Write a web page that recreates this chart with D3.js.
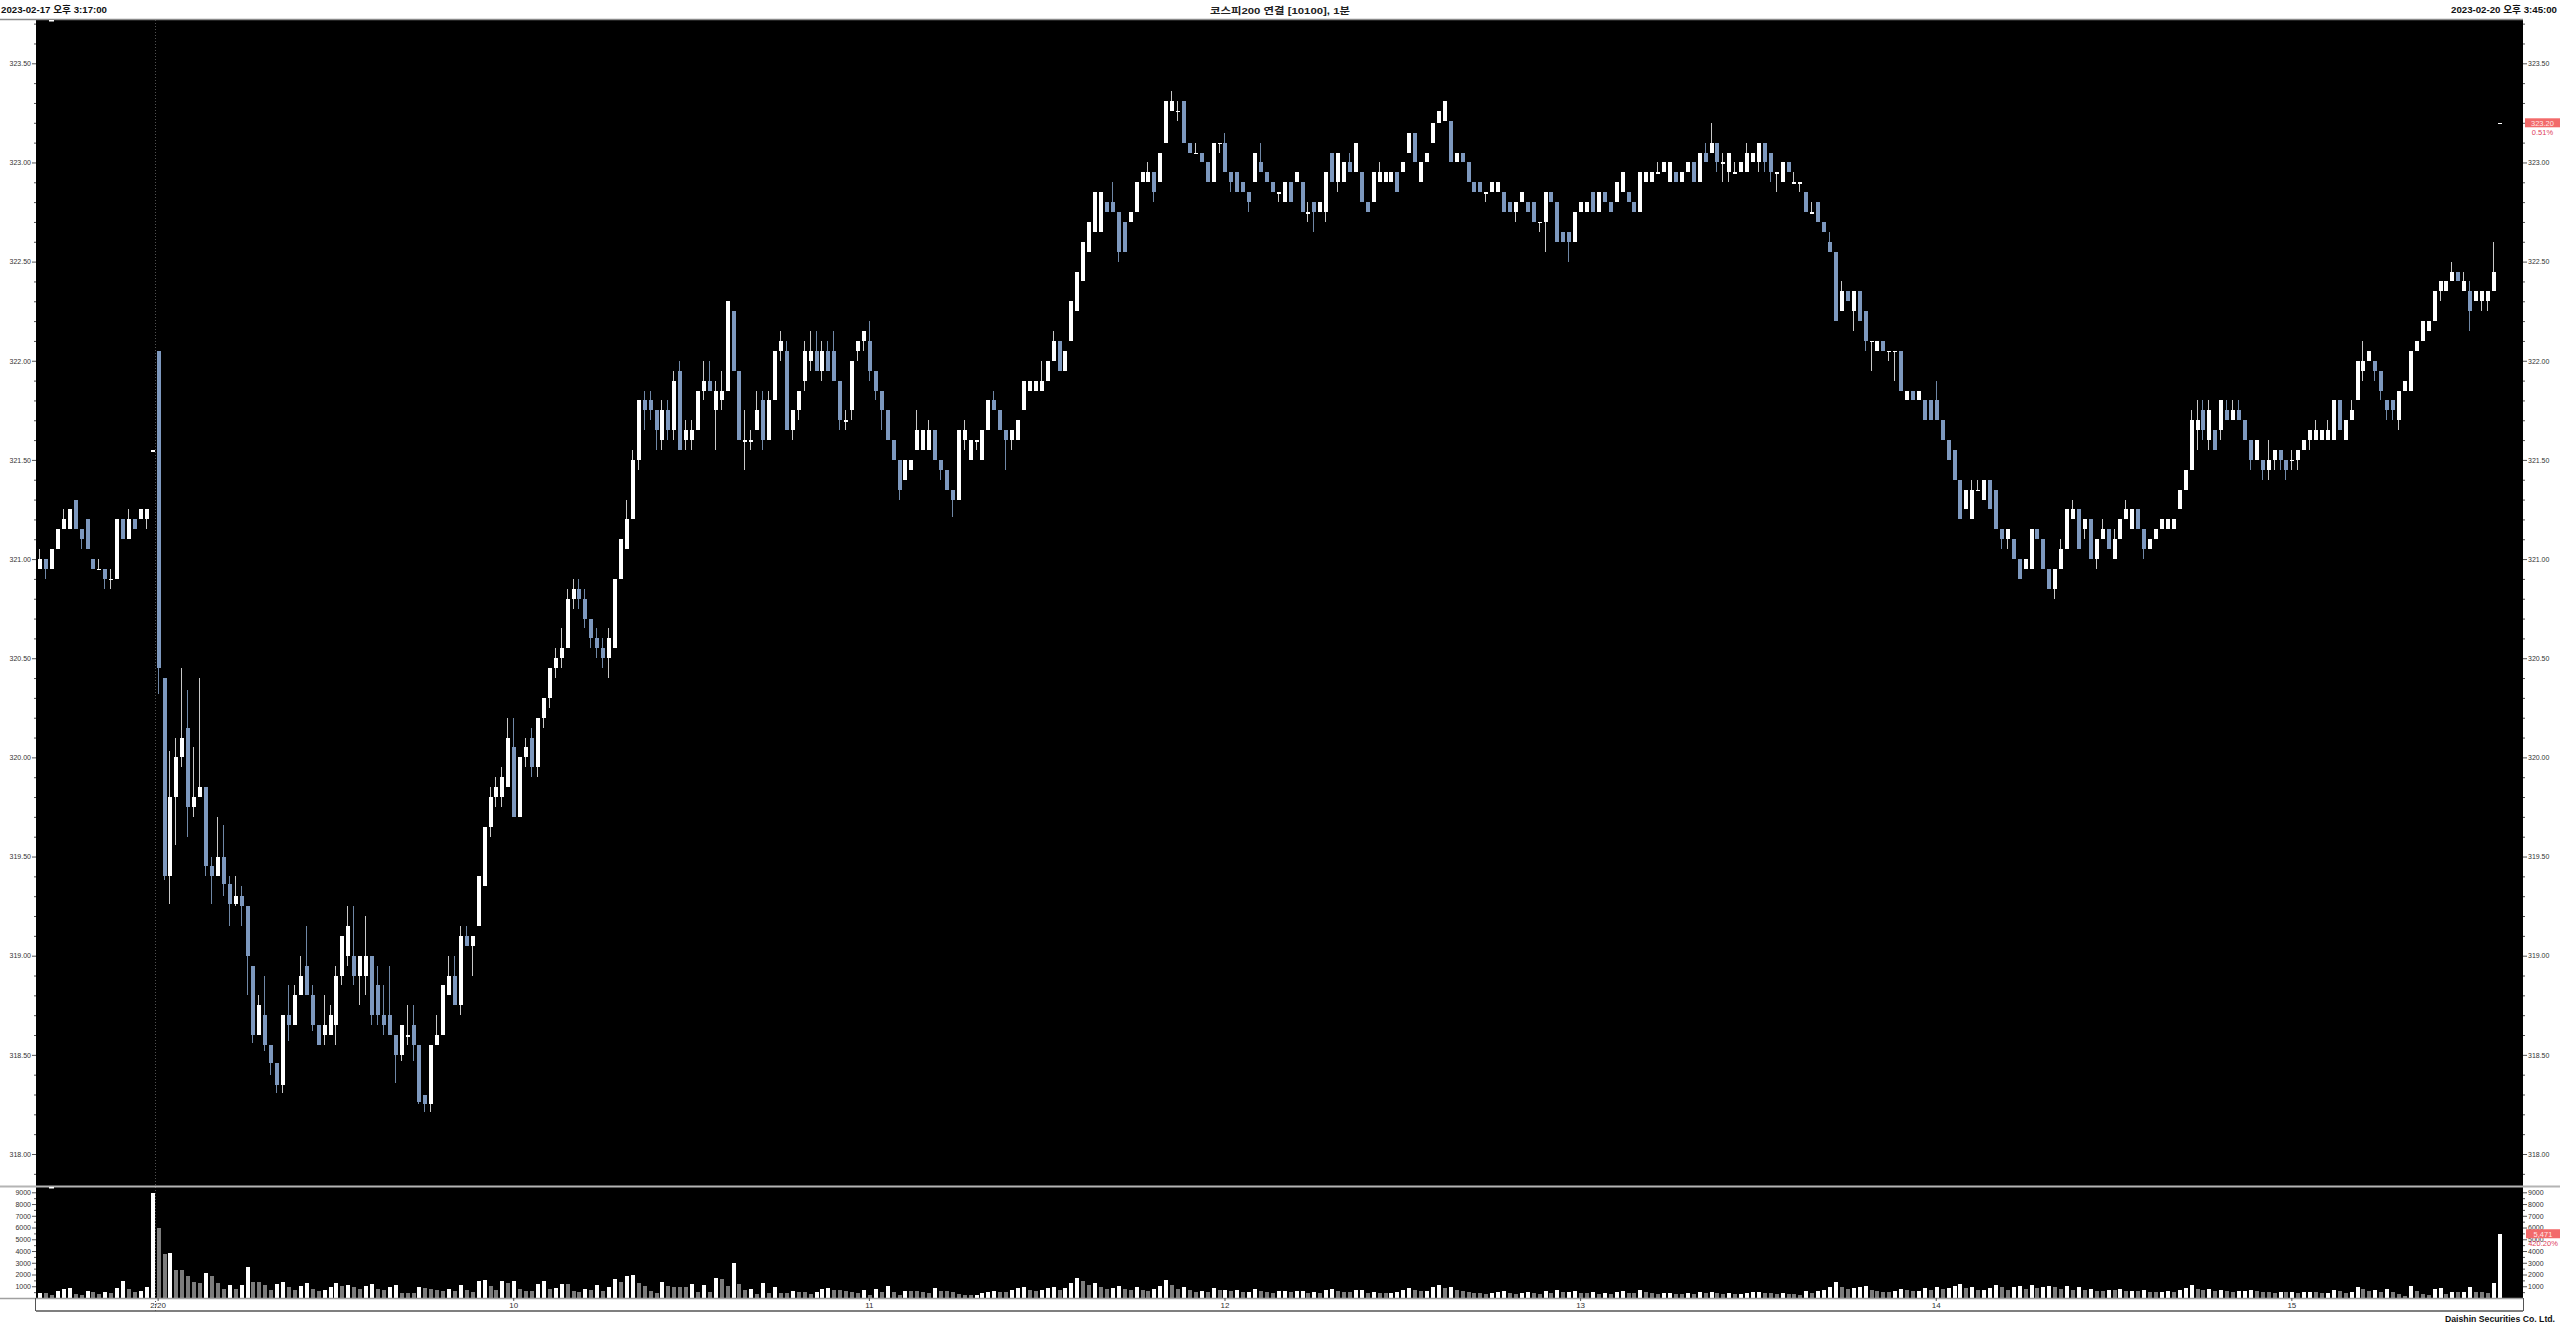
<!DOCTYPE html>
<html><head><meta charset="utf-8">
<script src="https://cdn.jsdelivr.net/npm/d3@7"></script>
<style>html,body{margin:0;padding:0;background:#fff;overflow:hidden}svg{display:block}</style>
</head><body>
<svg id="c" width="2560" height="1328"></svg>
<script>
// ---- DATA (1-minute bars: 2/17 15:17 .. 2/20 close) ----
const opens = [
320.95,321.00,320.95,321.05,321.15,321.15,321.30,321.15,321.20,321.00,
320.95,320.95,320.90,320.90,321.20,321.10,321.20,321.20,321.20,321.55,
322.05,320.40,319.40,319.80,320.00,320.15,319.75,319.80,319.85,319.45,
319.40,319.50,319.36,319.26,319.30,319.25,318.95,318.60,318.70,318.55,
318.46,318.35,318.70,318.65,318.80,318.95,318.80,318.65,318.60,318.60,
318.65,318.90,319.00,319.00,318.90,318.90,319.00,318.85,318.70,318.70,
318.60,318.50,318.60,318.65,318.55,318.30,318.25,318.55,318.60,318.80,
318.90,318.75,319.10,319.05,319.15,319.35,319.65,319.80,319.80,319.85,
320.05,319.70,320.00,320.10,319.95,320.20,320.30,320.45,320.50,320.55,
320.80,320.85,320.80,320.70,320.60,320.55,320.50,320.55,320.90,321.05,
321.20,321.50,321.80,321.80,321.75,321.60,321.75,321.65,321.95,321.60,
321.60,321.65,321.85,321.90,321.75,321.80,321.85,322.25,321.95,321.60,
321.60,321.65,321.80,321.60,321.80,322.05,322.05,321.65,321.75,321.90,
322.00,322.05,321.95,322.05,322.05,321.90,321.70,321.75,322.05,322.10,
322.10,321.95,321.85,321.75,321.60,321.50,321.40,321.45,321.55,321.55,
321.55,321.65,321.50,321.45,321.35,321.30,321.60,321.50,321.60,321.50,
321.65,321.80,321.75,321.65,321.60,321.60,321.75,321.85,321.85,321.85,
321.90,322.00,322.10,321.95,322.10,322.25,322.40,322.55,322.65,322.65,
322.80,322.80,322.75,322.70,322.70,322.75,322.90,322.90,322.95,322.90,
323.10,323.26,323.26,323.31,323.10,323.05,323.05,323.00,322.90,323.10,
323.10,322.95,322.95,322.90,322.85,322.90,323.00,322.95,322.90,322.85,
322.80,322.90,322.90,322.90,322.75,322.80,322.75,322.75,323.05,322.90,
322.90,323.00,322.95,322.95,322.80,322.80,322.90,322.90,322.90,322.95,
322.95,323.05,323.15,322.90,323.00,323.10,323.20,323.21,323.21,323.00,
323.05,323.00,322.90,322.90,322.85,322.85,322.85,322.85,322.80,322.75,
322.80,322.80,322.80,322.70,322.70,322.85,322.80,322.65,322.65,322.60,
322.75,322.75,322.85,322.75,322.85,322.80,322.80,322.85,322.85,322.80,
322.75,322.90,322.90,322.95,322.95,322.90,322.95,322.90,322.95,323.00,
322.90,323.05,323.05,323.10,323.00,322.95,322.95,322.95,322.95,323.00,
323.00,323.10,323.05,322.95,322.90,323.00,322.90,322.90,322.85,322.75,
322.80,322.70,322.60,322.55,322.25,322.35,322.25,322.35,322.25,322.10,
322.05,322.10,322.05,322.05,322.05,321.80,321.85,321.80,321.80,321.80,
321.80,321.70,321.60,321.55,321.40,321.25,321.20,321.35,321.30,321.40,
321.35,321.15,321.10,321.10,321.00,320.95,320.95,321.15,321.10,320.95,
320.85,320.95,321.05,321.20,321.25,321.15,321.20,321.00,321.10,321.15,
321.00,321.10,321.20,321.15,321.25,321.15,321.05,321.10,321.15,321.15,
321.15,321.25,321.35,321.45,321.65,321.75,321.60,321.65,321.65,321.75,
321.70,321.75,321.70,321.60,321.50,321.50,321.45,321.50,321.55,321.50,
321.50,321.50,321.55,321.60,321.60,321.60,321.60,321.60,321.80,321.60,
321.70,321.80,321.95,322.00,322.00,321.95,321.80,321.80,321.70,321.85,
321.85,322.05,322.10,322.15,322.20,322.35,322.35,322.40,322.45,322.35,
322.35,322.30,322.30,322.30,322.35,323.20];
const highs = [
321.05,321.00,321.05,321.15,321.25,321.25,321.30,321.15,321.20,321.00,
321.00,320.95,320.95,321.20,321.20,321.25,321.20,321.25,321.25,321.55,
322.05,320.40,320.03,320.10,320.45,320.34,320.05,320.40,319.85,319.50,
319.70,319.66,319.40,319.40,319.35,319.25,318.95,318.80,318.90,318.55,
318.46,318.70,318.85,318.85,319.00,319.15,318.85,318.65,318.80,318.75,
318.95,319.10,319.25,319.25,319.00,319.20,319.00,318.95,318.85,318.95,
318.60,318.65,318.75,318.75,318.55,318.30,318.55,318.70,318.85,319.00,
319.00,319.15,319.15,319.10,319.40,319.65,319.85,319.90,319.95,320.20,
320.20,320.00,320.10,320.15,320.20,320.30,320.45,320.55,320.65,320.85,
320.90,320.90,320.85,320.70,320.65,320.60,320.65,320.90,321.10,321.30,
321.55,321.80,321.85,321.85,321.75,321.80,321.80,321.95,322.00,321.70,
321.70,321.85,322.00,322.00,321.90,321.95,322.30,322.25,321.95,321.75,
321.65,321.85,321.85,321.85,322.05,322.15,322.10,321.75,321.85,322.10,
322.15,322.15,322.10,322.10,322.15,321.90,321.75,322.00,322.10,322.15,
322.20,321.95,321.85,321.75,321.60,321.50,321.50,321.50,321.75,321.65,
321.70,321.65,321.50,321.45,321.35,321.65,321.70,321.60,321.60,321.65,
321.80,321.85,321.75,321.65,321.65,321.70,321.90,321.90,321.90,322.00,
322.00,322.15,322.10,322.05,322.30,322.45,322.60,322.70,322.85,322.85,
322.80,322.90,322.75,322.70,322.75,322.90,322.95,323.00,322.95,323.05,
323.31,323.36,323.31,323.31,323.10,323.10,323.05,323.00,323.10,323.10,
323.15,322.95,322.95,322.90,322.85,323.05,323.10,322.95,322.90,322.85,
322.90,322.90,322.95,322.90,322.80,322.80,322.80,322.95,323.05,323.05,
323.00,323.05,323.10,322.95,322.80,322.95,323.00,322.95,322.95,322.95,
323.00,323.15,323.15,323.00,323.05,323.20,323.26,323.31,323.21,323.05,
323.05,323.00,322.90,322.90,322.85,322.90,322.90,322.85,322.80,322.80,
322.85,322.80,322.80,322.70,322.85,322.85,322.80,322.65,322.65,322.75,
322.80,322.80,322.85,322.85,322.85,322.80,322.90,322.95,322.85,322.80,
322.95,322.95,322.95,323.00,323.00,323.00,322.95,322.95,323.00,323.00,
323.05,323.10,323.20,323.10,323.05,323.05,323.00,323.00,323.10,323.05,
323.10,323.10,323.05,322.95,323.00,323.00,322.95,322.90,322.85,322.80,
322.80,322.70,322.65,322.55,322.40,322.35,322.35,322.35,322.25,322.10,
322.10,322.10,322.05,322.05,322.05,321.85,321.85,321.85,321.80,321.80,
321.90,321.70,321.60,321.55,321.40,321.35,321.40,321.40,321.40,321.40,
321.35,321.15,321.15,321.10,321.00,321.00,321.15,321.15,321.10,320.95,
320.95,321.10,321.25,321.30,321.25,321.20,321.20,321.10,321.20,321.15,
321.15,321.20,321.30,321.25,321.25,321.15,321.10,321.15,321.20,321.20,
321.20,321.35,321.45,321.75,321.80,321.80,321.80,321.65,321.80,321.80,
321.80,321.80,321.70,321.60,321.60,321.50,321.60,321.55,321.55,321.50,
321.55,321.55,321.60,321.65,321.70,321.65,321.70,321.80,321.80,321.70,
321.80,322.00,322.10,322.05,322.00,321.95,321.80,321.80,321.85,321.90,
322.05,322.10,322.20,322.20,322.35,322.40,322.40,322.50,322.45,322.45,
322.40,322.35,322.35,322.35,322.60,323.20];
const lows = [
320.95,320.90,320.95,321.05,321.15,321.15,321.15,321.05,321.05,320.95,
320.95,320.85,320.85,320.90,321.10,321.10,321.15,321.20,321.15,321.55,
320.32,319.38,319.26,319.56,319.95,319.60,319.70,319.80,319.40,319.26,
319.40,319.30,319.15,319.25,319.15,318.80,318.56,318.60,318.52,318.40,
318.31,318.31,318.57,318.65,318.80,318.80,318.62,318.55,318.55,318.60,
318.55,318.85,318.95,318.85,318.75,318.80,318.65,318.65,318.60,318.60,
318.36,318.47,318.55,318.47,318.25,318.21,318.21,318.55,318.60,318.80,
318.75,318.70,319.05,318.90,319.15,319.35,319.60,319.75,319.75,319.85,
319.70,319.70,319.95,319.90,319.90,320.15,320.25,320.40,320.45,320.55,
320.75,320.75,320.65,320.55,320.50,320.45,320.40,320.55,320.90,321.05,
321.20,321.45,321.65,321.70,321.55,321.55,321.60,321.60,321.55,321.55,
321.55,321.65,321.80,321.85,321.55,321.75,321.85,321.95,321.60,321.45,
321.55,321.65,321.55,321.60,321.80,322.00,321.65,321.60,321.70,321.85,
321.95,321.95,321.90,321.95,321.90,321.65,321.65,321.70,322.00,322.05,
321.90,321.80,321.65,321.60,321.50,321.30,321.40,321.45,321.55,321.55,
321.55,321.50,321.40,321.35,321.21,321.30,321.55,321.50,321.55,321.50,
321.65,321.75,321.65,321.45,321.55,321.60,321.75,321.85,321.85,321.85,
321.90,322.00,321.95,321.95,322.10,322.25,322.40,322.55,322.65,322.65,
322.75,322.75,322.50,322.55,322.70,322.75,322.90,322.90,322.80,322.90,
323.10,323.26,323.21,323.10,323.05,323.05,323.00,322.90,322.90,323.05,
322.95,322.85,322.85,322.85,322.75,322.90,322.95,322.90,322.85,322.80,
322.80,322.80,322.90,322.75,322.70,322.65,322.75,322.70,322.90,322.85,
322.90,322.95,322.95,322.80,322.75,322.80,322.90,322.90,322.90,322.85,
322.95,323.05,323.00,322.90,323.00,323.10,323.20,323.21,323.00,323.00,
323.00,322.90,322.85,322.85,322.80,322.85,322.85,322.75,322.75,322.70,
322.80,322.75,322.70,322.65,322.55,322.80,322.60,322.60,322.50,322.60,
322.75,322.75,322.75,322.75,322.80,322.75,322.80,322.85,322.80,322.75,
322.75,322.90,322.90,322.95,322.95,322.90,322.90,322.90,322.95,322.90,
322.90,323.00,323.05,322.95,322.90,322.90,322.95,322.95,322.95,323.00,
322.95,322.95,322.90,322.85,322.90,322.95,322.90,322.85,322.75,322.75,
322.70,322.65,322.55,322.20,322.25,322.30,322.15,322.20,322.05,321.95,
322.05,322.05,322.00,321.90,321.85,321.80,321.80,321.80,321.70,321.70,
321.70,321.60,321.50,321.40,321.20,321.25,321.20,321.35,321.30,321.25,
321.15,321.05,321.05,321.00,320.90,320.95,320.95,321.10,320.95,320.85,
320.80,320.95,321.05,321.20,321.05,321.10,321.00,320.95,321.10,321.05,
321.00,321.10,321.20,321.15,321.15,321.00,321.05,321.10,321.15,321.15,
321.15,321.25,321.35,321.45,321.55,321.60,321.55,321.55,321.60,321.70,
321.70,321.70,321.60,321.45,321.50,321.40,321.40,321.45,321.45,321.40,
321.45,321.45,321.55,321.55,321.60,321.60,321.60,321.60,321.65,321.60,
321.70,321.80,321.90,322.00,321.90,321.80,321.70,321.70,321.65,321.85,
321.85,322.05,322.10,322.15,322.20,322.30,322.35,322.40,322.40,322.35,
322.15,322.30,322.25,322.25,322.35,323.20];
const closes = [
321.00,320.95,321.05,321.15,321.20,321.25,321.15,321.10,321.05,320.95,
320.95,320.90,320.90,321.20,321.10,321.20,321.15,321.25,321.25,321.55,
320.45,319.40,319.80,320.00,320.10,319.75,319.80,319.85,319.45,319.40,
319.50,319.36,319.26,319.30,319.25,319.00,318.60,318.75,318.55,318.46,
318.35,318.70,318.65,318.80,318.90,318.80,318.65,318.55,318.65,318.70,
318.90,319.10,319.15,318.90,319.00,319.00,318.70,318.70,318.65,318.60,
318.50,318.65,318.60,318.55,318.26,318.25,318.55,318.60,318.85,318.90,
318.75,319.10,319.05,319.10,319.40,319.65,319.80,319.85,319.90,320.10,
319.70,320.00,320.05,319.95,320.20,320.30,320.45,320.50,320.55,320.80,
320.85,320.80,320.70,320.60,320.55,320.50,320.60,320.90,321.10,321.20,
321.50,321.80,321.75,321.75,321.65,321.75,321.65,321.90,321.55,321.65,
321.65,321.85,321.90,321.85,321.85,321.85,322.30,321.95,321.60,321.60,
321.60,321.75,321.60,321.80,322.05,322.10,321.65,321.75,321.85,322.05,
322.05,321.95,322.05,321.95,321.90,321.70,321.70,322.00,322.10,322.15,
321.95,321.85,321.75,321.60,321.50,321.35,321.50,321.50,321.65,321.65,
321.65,321.50,321.45,321.35,321.30,321.65,321.65,321.60,321.60,321.65,
321.80,321.75,321.65,321.60,321.65,321.70,321.90,321.90,321.90,321.90,
322.00,322.10,321.95,322.05,322.30,322.45,322.60,322.70,322.85,322.85,
322.75,322.75,322.55,322.55,322.75,322.90,322.95,322.95,322.85,323.05,
323.31,323.31,323.26,323.10,323.05,323.05,323.00,322.90,323.10,323.10,
322.95,322.90,322.85,322.85,322.80,323.05,322.95,322.90,322.85,322.85,
322.90,322.80,322.95,322.75,322.75,322.75,322.80,322.95,322.90,323.05,
323.00,322.95,323.10,322.80,322.75,322.95,322.95,322.95,322.95,322.85,
323.00,323.15,323.00,323.00,323.05,323.20,323.26,323.31,323.00,323.05,
323.00,322.90,322.85,322.85,322.85,322.90,322.90,322.75,322.75,322.80,
322.85,322.75,322.70,322.70,322.85,322.80,322.60,322.60,322.60,322.75,
322.80,322.80,322.75,322.85,322.80,322.75,322.90,322.95,322.80,322.75,
322.95,322.95,322.95,322.95,323.00,323.00,322.90,322.95,323.00,322.90,
323.05,323.00,323.10,323.00,323.00,323.05,322.95,323.00,323.05,323.05,
323.10,323.00,322.95,322.95,323.00,322.95,322.90,322.90,322.75,322.75,
322.70,322.65,322.55,322.20,322.35,322.30,322.35,322.20,322.10,322.10,
322.10,322.05,322.05,322.05,321.85,321.85,321.80,321.85,321.70,321.70,
321.70,321.60,321.50,321.40,321.20,321.35,321.35,321.35,321.40,321.25,
321.15,321.10,321.15,321.00,320.90,321.00,321.15,321.10,320.95,320.85,
320.95,321.05,321.25,321.25,321.05,321.20,321.00,321.10,321.15,321.05,
321.10,321.20,321.25,321.25,321.15,321.05,321.10,321.15,321.20,321.20,
321.20,321.35,321.45,321.70,321.70,321.65,321.75,321.55,321.80,321.70,
321.75,321.70,321.60,321.50,321.60,321.45,321.50,321.55,321.50,321.45,
321.50,321.55,321.60,321.65,321.65,321.65,321.65,321.80,321.65,321.70,
321.75,322.00,322.00,322.05,321.95,321.85,321.75,321.75,321.85,321.90,
322.05,322.10,322.20,322.20,322.35,322.40,322.40,322.45,322.40,322.40,
322.25,322.35,322.35,322.35,322.45,323.20];
const volumes = [
450,400,250,600,740,820,340,250,600,510,
310,510,450,820,1450,740,510,600,940,8900,
6000,3750,3800,2380,2350,1900,1360,1280,2100,1840,
1280,740,1100,740,1100,2640,1360,1360,1100,700,
1200,1400,900,700,1000,1300,800,600,700,900,
1300,1000,1100,900,800,1000,1200,800,700,900,
1100,430,430,430,940,850,770,710,570,770,
620,1110,710,510,1480,1500,1050,710,1480,1280,
1480,770,570,570,1160,1480,770,850,1220,1200,
620,510,800,710,1110,620,940,1650,1390,1900,
2000,1280,1050,620,430,1330,1000,940,940,930,
1160,510,1110,510,1700,1650,1000,3000,1160,710,
800,370,1280,430,940,430,420,620,510,500,
370,510,800,850,710,700,620,510,430,710,
280,800,510,1000,510,280,620,570,560,550,
430,850,570,560,550,370,280,230,280,430,
510,620,540,480,700,820,900,640,560,700,
820,960,720,880,1300,1700,1450,1100,1250,900,
760,820,1000,760,640,900,700,620,800,1050,
1500,1100,760,900,640,520,600,540,820,640,
700,560,640,480,520,760,560,480,420,560,
620,480,560,620,400,520,440,700,760,620,
540,480,640,700,460,520,440,400,460,520,
640,820,700,560,620,900,1100,820,960,700,
560,500,440,400,360,420,480,560,400,360,
440,480,400,340,560,440,640,480,520,560,
440,400,480,360,420,380,500,560,420,400,
640,480,420,360,400,460,380,340,420,380,
480,440,520,400,360,420,340,380,440,480,
520,460,400,340,420,380,300,280,560,420,
620,700,900,1400,960,760,820,900,1000,700,
600,540,480,560,800,640,560,600,820,720,
900,760,880,1000,1200,820,900,640,720,860,
1100,900,700,900,1000,760,1100,820,900,1050,
900,800,1000,700,900,640,800,620,580,700,
640,760,560,620,560,700,540,480,520,560,
480,700,820,1100,760,680,800,620,700,560,
520,580,620,700,560,520,480,440,500,480,
520,460,500,540,480,420,460,640,560,460,
520,900,760,620,700,540,740,540,340,200,
990,600,340,280,740,880,340,480,480,540,
940,540,480,400,1280,5471];
const priceMajorTicks = [318.0,318.5,319.0,319.5,320.0,320.5,321.0,321.5,322.0,322.5,323.0,323.5];
const priceMinorTicks = [317.9,318.1,318.2,318.3,318.4,318.6,318.7,318.8,318.9,319.1,319.2,319.3,319.4,319.6,319.7,319.8,319.9,320.1,320.2,320.3,320.4,320.6,320.7,320.8,320.9,321.1,321.2,321.3,321.4,321.6,321.7,321.8,321.9,322.1,322.2,322.3,322.4,322.6,322.7,322.8,322.9,323.1,323.2,323.3,323.4,323.6,323.7];
const volumeMajorTicks = [1000,2000,3000,4000,5000,6000,7000,8000,9000];
const volumeMinorTicks = [500,1500,2500,3500,4500,5500,6500,7500,8500];
const timeTickIndex = [20,80,140,200,260,320,380];
const timeTickLabels = ["2/20","10","11","12","13","14","15"];
const dayBreakIndex = 19.5;
const lastPrice = 323.20, lastPriceLabel = "323.20", lastChange = "0.51%";
const lastVolume = 5471, lastVolumeLabel = "5,471", lastVolumeChange = "420.20%";
const titleText = "코스피200 연결 [10100], 1분";
const startText = "2023-02-17 오후 3:17:00";
const endText = "2023-02-20 오후 3:45:00";
const footerText = "Daishin Securities Co. Ltd.";

const N = opens.length;
[highs,lows,closes,volumes].forEach((a,k)=>{ if(a.length!==N) throw new Error("length mismatch "+k+": "+a.length+" vs "+N); });

// ---- LAYOUT ----
const W=2560,H=1328, L=36, R=2523, T=20, PB=1186, VT=1187, VB=1298, XB=1311;
const svg = d3.select('#c');
svg.append('rect').attr('width',W).attr('height',H).attr('fill','#fff');
svg.append('rect').attr('x',L).attr('y',T).attr('width',R-L).attr('height',VB-T).attr('fill','#000');

const x = d3.scaleLinear().domain([0,415]).range([39.1,2498.8]);
const y = d3.scaleLinear().domain([318,323.5]).range([1154,63.3]);
const yv = d3.scaleLinear().domain([0,9000]).range([VB,1192.3]);

// header
const font = "'Liberation Sans','Noto Sans CJK KR',Arial,sans-serif";
svg.append('line').attr('x1',0).attr('x2',R).attr('y1',19.5).attr('y2',19.5).attr('stroke','#8a8a8a').attr('stroke-width',1.5);
svg.append('text').attr('x',1).attr('y',13).attr('font-family',font).attr('font-weight','bold').attr('font-size',9)
  .attr('textLength',106).attr('lengthAdjust','spacingAndGlyphs').attr('fill','#111').text(startText);
svg.append('text').attr('x',1210).attr('y',13.5).attr('font-family',font).attr('font-weight','bold').attr('font-size',9)
  .attr('textLength',140).attr('lengthAdjust','spacingAndGlyphs').attr('fill','#222').text(titleText);
svg.append('text').attr('x',2451).attr('y',13).attr('font-family',font).attr('font-weight','bold').attr('font-size',9)
  .attr('textLength',106).attr('lengthAdjust','spacingAndGlyphs').attr('fill','#111').text(endText);

// day separator
svg.append('line').attr('x1',Math.round(x(dayBreakIndex))+0.5).attr('x2',Math.round(x(dayBreakIndex))+0.5)
  .attr('y1',T).attr('y2',XB).attr('stroke','#505050').attr('stroke-dasharray','1,2');

// candles
const idx = d3.range(N);
const up = i => closes[i] >= opens[i];
const g = svg.append('g').attr('shape-rendering','crispEdges');
g.selectAll('line.w').data(idx).join('line').attr('class','w')
  .attr('x1',i=>Math.round(x(i))+0.5).attr('x2',i=>Math.round(x(i))+0.5)
  .attr('y1',i=>y(Math.max(highs[i],opens[i],closes[i])))
  .attr('y2',i=>y(Math.min(lows[i],opens[i],closes[i])))
  .attr('stroke',i=>up(i)?'#c8c8c8':'#6f87a6').attr('stroke-width',1);
g.selectAll('rect.b').data(idx).join('rect').attr('class','b')
  .attr('x',i=>Math.round(x(i))-1.5).attr('width',4)
  .attr('y',i=>y(Math.max(opens[i],closes[i])))
  .attr('height',i=>Math.max(1.5,y(Math.min(opens[i],closes[i]))-y(Math.max(opens[i],closes[i]))))
  .attr('fill',i=>up(i)?'#ffffff':'#7d98be');

// volume bars
const vg = svg.append('g').attr('shape-rendering','crispEdges');
vg.selectAll('rect').data(idx).join('rect')
  .attr('x',i=>Math.round(x(i))-1.5).attr('width',4)
  .attr('y',i=>yv(volumes[i])).attr('height',i=>VB-yv(volumes[i]))
  .attr('fill',i=>(i===0||volumes[i]>volumes[i-1])?'#ffffff':'#7c7c7c');

// pane lines
svg.append('line').attr('x1',0).attr('x2',W).attr('y1',PB+0.5).attr('y2',PB+0.5).attr('stroke','#b4b4b4').attr('stroke-width',2);
svg.append('line').attr('x1',0).attr('x2',R).attr('y1',VB+0.5).attr('y2',VB+0.5).attr('stroke','#a0a0a0').attr('stroke-width',1.5);
svg.append('line').attr('x1',L).attr('x2',R).attr('y1',XB).attr('y2',XB).attr('stroke','#555').attr('stroke-width',1.5);
svg.append('line').attr('x1',L-0.5).attr('x2',L-0.5).attr('y1',VB).attr('y2',XB).attr('stroke','#555');
svg.append('line').attr('x1',R+0.5).attr('x2',R+0.5).attr('y1',VB).attr('y2',XB).attr('stroke','#555');

// small markers
svg.append('rect').attr('x',49).attr('y',20).attr('width',5).attr('height',1.5).attr('fill','#fff');
svg.append('rect').attr('x',49).attr('y',1187).attr('width',5).attr('height',1.5).attr('fill','#fff');

// axes
function styleAxis(sel, size){
  sel.select('.domain').remove();
  sel.selectAll('.tick line').attr('stroke','#555');
  sel.selectAll('.tick text').attr('font-family',font).attr('font-size',size).attr('fill','#333');
}
const axL = svg.append('g').attr('transform',`translate(${L},0)`)
  .call(d3.axisLeft(y).tickValues(priceMajorTicks).tickSize(4).tickPadding(1).tickFormat(d3.format('.2f')));
styleAxis(axL,7);
const axLm = svg.append('g').attr('transform',`translate(${L},0)`)
  .call(d3.axisLeft(y).tickValues(priceMinorTicks).tickSize(2).tickFormat(''));
styleAxis(axLm,7);
const axR = svg.append('g').attr('transform',`translate(${R},0)`)
  .call(d3.axisRight(y).tickValues(priceMajorTicks).tickSize(4).tickPadding(1).tickFormat(d3.format('.2f')));
styleAxis(axR,7);
const axRm = svg.append('g').attr('transform',`translate(${R},0)`)
  .call(d3.axisRight(y).tickValues(priceMinorTicks).tickSize(2).tickFormat(''));
styleAxis(axRm,7);

const vL = svg.append('g').attr('transform',`translate(${L},0)`)
  .call(d3.axisLeft(yv).tickValues(volumeMajorTicks).tickSize(4).tickPadding(1).tickFormat(d3.format('d')));
styleAxis(vL,7);
const vLm = svg.append('g').attr('transform',`translate(${L},0)`)
  .call(d3.axisLeft(yv).tickValues(volumeMinorTicks).tickSize(2).tickFormat(''));
styleAxis(vLm,7);
const vR = svg.append('g').attr('transform',`translate(${R},0)`)
  .call(d3.axisRight(yv).tickValues(volumeMajorTicks).tickSize(4).tickPadding(1).tickFormat(d3.format('d')));
styleAxis(vR,7);
const vRm = svg.append('g').attr('transform',`translate(${R},0)`)
  .call(d3.axisRight(yv).tickValues(volumeMinorTicks).tickSize(2).tickFormat(''));
styleAxis(vRm,7);

const axX = svg.append('g').attr('transform',`translate(0,${VB})`)
  .call(d3.axisBottom(x).tickValues(timeTickIndex).tickSize(3).tickPadding(1).tickFormat((d,k)=>timeTickLabels[k]));
styleAxis(axX,8);

// right-side value labels
const py = y(lastPrice);
svg.append('rect').attr('x',R+2).attr('y',py-4.5).attr('width',W-R-2).attr('height',9).attr('fill','#f26a6a');
svg.append('text').attr('x',(R+2+W)/2).attr('y',py+3).attr('text-anchor','middle').attr('font-family',font).attr('font-size',7.5).attr('fill','#ffe8e8').text(lastPriceLabel);
svg.append('text').attr('x',(R+2+W)/2).attr('y',py+12).attr('text-anchor','middle').attr('font-family',font).attr('font-size',7.5).attr('fill','#e0405a').text(lastChange);
const vy = yv(lastVolume);
svg.append('rect').attr('x',R+3).attr('y',vy-4.5).attr('width',W-R-3).attr('height',9).attr('fill','#f26a6a');
svg.append('text').attr('x',(R+3+W)/2).attr('y',vy+3).attr('text-anchor','middle').attr('font-family',font).attr('font-size',7.5).attr('fill','#ffe8e8').text(lastVolumeLabel);
svg.append('text').attr('x',(R+3+W)/2).attr('y',vy+12).attr('text-anchor','middle').attr('font-family',font).attr('font-size',7.5).attr('fill','#e0405a').text(lastVolumeChange);

// footer
svg.append('text').attr('x',2555).attr('y',1322).attr('text-anchor','end').attr('font-family',font).attr('font-weight','bold').attr('font-size',9)
  .attr('textLength',110).attr('lengthAdjust','spacingAndGlyphs').attr('fill','#111').text(footerText);
</script>
</body></html>
